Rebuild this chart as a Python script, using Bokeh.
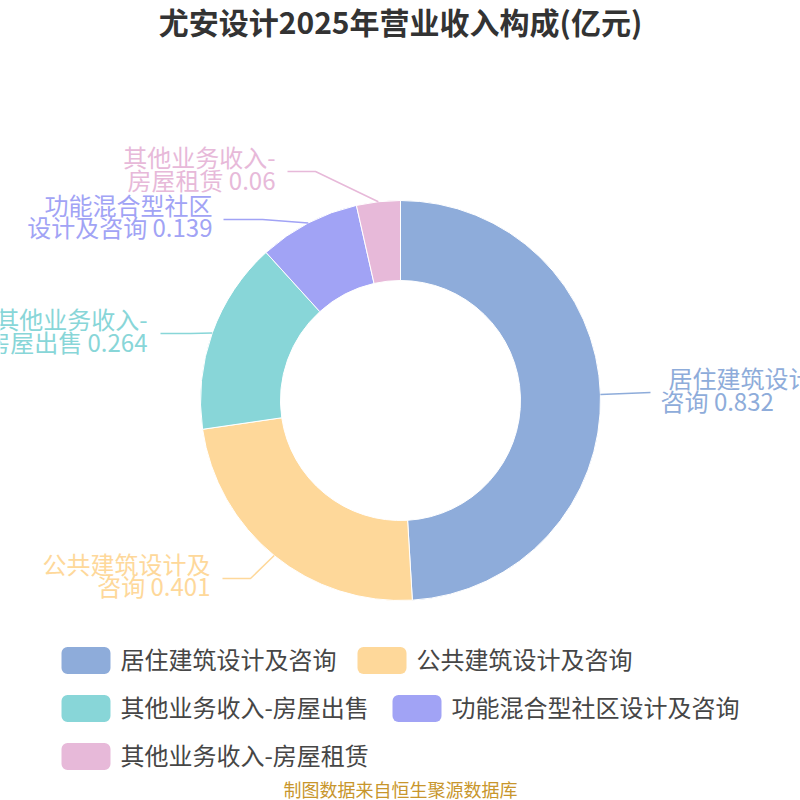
import numpy as np
from bokeh.plotting import figure
from bokeh.models import Range1d, ColumnDataSource
from bokeh.core.properties import value
from bokeh.embed import file_html
from bokeh.resources import INLINE

# ---- data ----
title = "尤安设计2025年营业收入构成(亿元)"
footer = "制图数据来自恒生聚源数据库"
categories = ["居住建筑设计及咨询", "公共建筑设计及咨询", "其他业务收入-房屋出售",
              "功能混合型社区设计及咨询", "其他业务收入-房屋租赁"]
values = [0.832, 0.401, 0.264, 0.139, 0.06]
label_first = ["居住建筑设计及", "公共建筑设计及", "其他业务收入-", "功能混合型社区", "其他业务收入-"]
label_second = ["咨询", "咨询", "房屋出售", "设计及咨询", "房屋租赁"]
colors = ["#8EACDA", "#FED89A", "#88D6D8", "#A1A3F5", "#E7B9D9"]

# ---- layout (reference pixel coordinates, y downward) ----
W = H = 800
CX, CY, R_OUT, R_IN = 400, 400, 200, 120
FONT = "Noto Sans CJK SC"
# elbow, end of leader line, text x, align, line1 y, line2 y, line2 x
label_layout = [
    ((625, 393), (650, 392), 668, "left", 377, 400, 660),
    ((250, 578), (222, 578), 210, "right", 563, 585, 210),
    ((190, 333), (160, 333), 147, "right", 318, 341, 147),
    ((262, 219), (223, 219), 212, "right", 204, 226, 212),
    ((315, 171), (287, 171), 275, "right", 156, 179, 275),
]
legend_pos = [(61, 659), (357, 659), (61, 707), (392, 707), (61, 755)]


def Y(y):
    return 800 - y


p = figure(width=W, height=H, output_backend="svg", toolbar_location=None,
           x_range=Range1d(0, 800), y_range=Range1d(0, 800), min_border=0)
p.axis.visible = False
p.grid.visible = False
p.outline_line_color = None
p.background_fill_color = "white"

total = sum(values)
fr = np.array(values) / total
cum = np.concatenate([[0], np.cumsum(fr)])
start = np.pi / 2 - 2 * np.pi * cum[:-1]
end = np.pi / 2 - 2 * np.pi * cum[1:]
src = ColumnDataSource(dict(start=start, end=end, color=colors))
p.annular_wedge(x=CX, y=Y(CY), inner_radius=R_IN, outer_radius=R_OUT,
                start_angle="start", end_angle="end", direction="clock",
                fill_color="color", line_color="white", line_width=1, source=src)

# labels and leader lines
mid = (cum[:-1] + cum[1:]) / 2
for i in range(len(values)):
    ang = 2 * np.pi * mid[i]
    sx = CX + R_OUT * np.sin(ang)
    sy = CY - R_OUT * np.cos(ang)
    (ex, ey), (tx, ty), txt_x, align, y1, y2, x2 = label_layout[i]
    p.line([sx, ex, tx], [Y(sy), Y(ey), Y(ty)], line_color=colors[i], line_width=1.5)
    p.text(x=[txt_x], y=[Y(y1)], text=[label_first[i]], text_align=align,
           text_baseline="middle", text_font=value(FONT), text_font_size="24px",
           text_color=colors[i])
    p.text(x=[x2], y=[Y(y2)], text=[f"{label_second[i]} {values[i]}"], text_align=align,
           text_baseline="middle", text_font=value(FONT), text_font_size="24px",
           text_color=colors[i])

# legend
for i, (lx, ly) in enumerate(legend_pos):
    p.quad(left=lx, right=lx + 49, top=Y(ly - 12.5), bottom=Y(ly + 14.5),
           fill_color=colors[i], line_color=None, border_radius=6)
    p.text(x=[lx + 59], y=[Y(ly - 1)], text=[categories[i]], text_align="left",
           text_baseline="middle", text_font=value(FONT), text_font_size="24px",
           text_color="#464646")

# title and footer
p.text(x=[400], y=[Y(20)], text=[title], text_align="center", text_baseline="middle",
       text_font=value(FONT), text_font_size="30px", text_font_style="bold",
       text_color="#333333")
p.text(x=[400], y=[Y(788)], text=[footer], text_align="center", text_baseline="middle",
       text_font=value(FONT), text_font_size="18px", text_color="#C8962C")

open("out.html", "w").write(file_html(p, INLINE))
